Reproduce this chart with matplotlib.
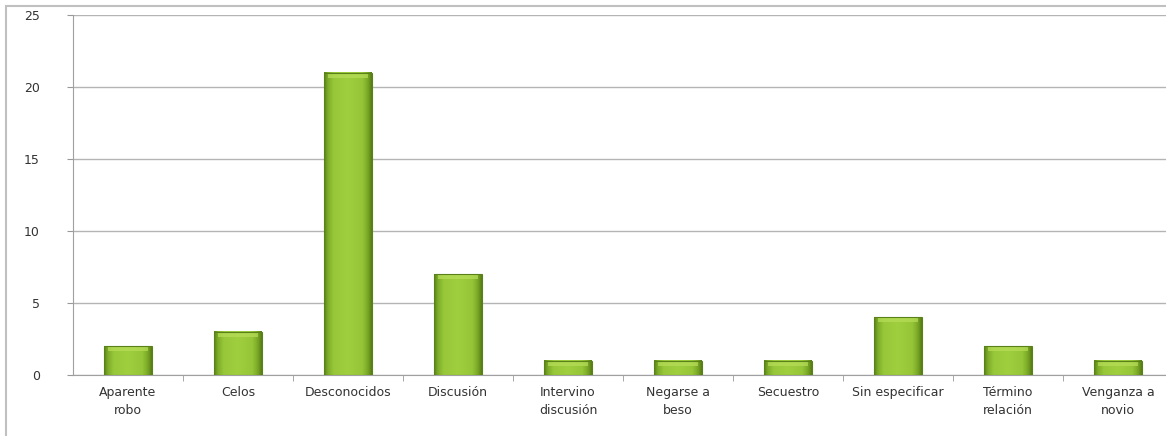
import numpy as np
import matplotlib.pyplot as plt
from matplotlib.colors import LinearSegmentedColormap
from matplotlib.patches import Rectangle

categorias = ['Aparente\nrobo', 'Celos', 'Desconocidos', 'Discusión',
              'Intervino\ndiscusión', 'Negarse a\nbeso', 'Secuestro',
              'Sin especificar', 'Término\nrelación', 'Venganza a\nnovio']
valores = [2, 3, 21, 7, 1, 1, 1, 4, 2, 1]
yticks = [0, 5, 10, 15, 20, 25]

fig = plt.figure(figsize=(11.66, 4.36), dpi=100)
# marco exterior (solo se ven los bordes izquierdo y superior)
fig.patches.append(Rectangle((6 / 1166, -0.5), 2.0, 1.5 - 6 / 436, transform=fig.transFigure,
                             fill=False, edgecolor='#c0c0c0', linewidth=1.5))
ax = fig.add_axes([73 / 1166, 61 / 436, 1100 / 1166, 360 / 436])

# gradiente horizontal para las barras
cmap = LinearSegmentedColormap.from_list('verde', [
    (0.0, '#5c8419'), (0.08, '#7fae2a'), (0.2, '#98c83a'),
    (0.5, '#9fce3e'), (0.8, '#96c638'), (0.92, '#7aa826'), (1.0, '#577e16')])
grad = np.linspace(0, 1, 64).reshape(1, -1)
ancho = 0.43
x = np.arange(len(categorias))
for xi, v in zip(x, valores):
    ax.imshow(grad, cmap=cmap, aspect='auto', interpolation='bicubic',
              extent=[xi - ancho / 2, xi + ancho / 2, 0, v], zorder=3)
    # tapa superior mas clara
    ax.add_patch(Rectangle((xi - ancho / 2 + 0.03, v - 0.35), ancho - 0.06, 0.3,
                           facecolor='#b8de5a', edgecolor='none', alpha=0.7, zorder=4))
    ax.add_patch(Rectangle((xi - ancho / 2, 0), ancho, v, fill=False,
                           edgecolor='#5a8019', linewidth=0.8, zorder=5))

ax.set_xlim(-0.5, len(categorias) - 0.5)
ax.set_ylim(0, 25)
ax.set_yticks(yticks)
ax.set_xticks(x)
ax.set_xticklabels(categorias, fontsize=9, color='#333333', linespacing=1.5)
ax.set_xticks(np.arange(0.5, len(categorias) - 0.5, 1), minor=True)
ax.tick_params(axis='x', which='major', length=0, pad=8)
ax.tick_params(axis='x', which='minor', length=4, color='#999999', direction='out')
ax.tick_params(axis='y', length=4, color='#999999', labelsize=9, labelcolor='#333333', pad=20)
ax.grid(axis='y', color='#b4b4b4', linewidth=1, zorder=0)
for s in ['top', 'right']:
    ax.spines[s].set_visible(False)
for s in ['left', 'bottom']:
    ax.spines[s].set_color('#a0a0a0')
ax.set_axisbelow(True)

fig.savefig('out.png', dpi=100)
